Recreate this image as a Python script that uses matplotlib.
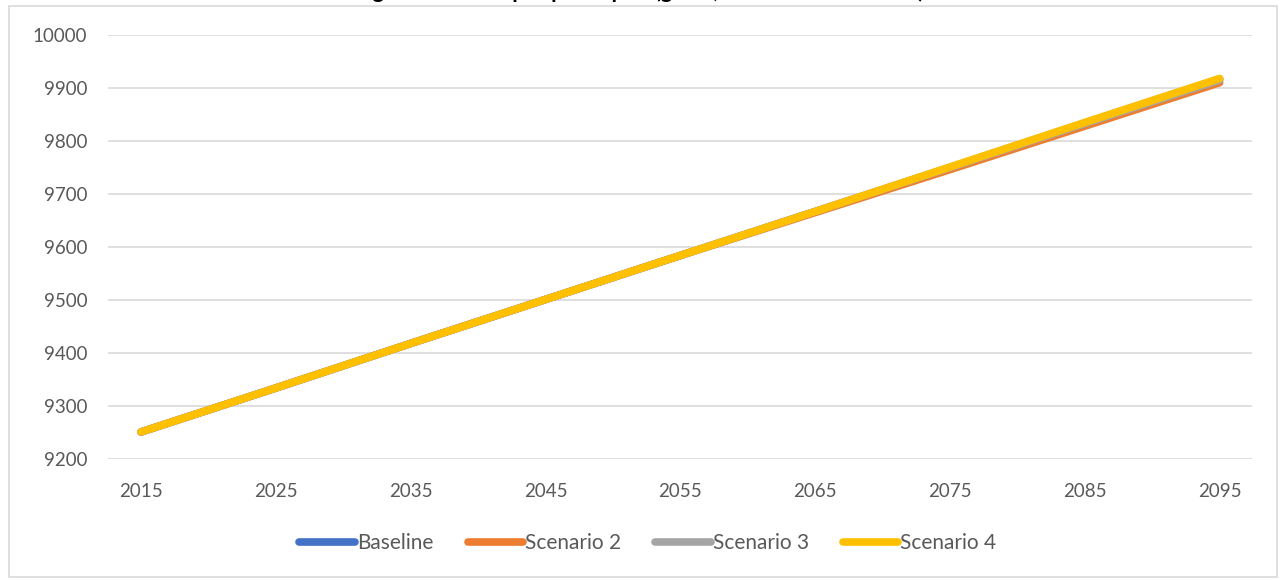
#!/usr/bin/env python3
# -*- coding: utf-8 -*-
"""
plot.py
四种情景下的人均产出长期走势（2015–2095）。
"""

import matplotlib.pyplot as plt
from matplotlib.patches import Rectangle

# ==== 数据 ====
years = [2015, 2025, 2035, 2045, 2055, 2065, 2075, 2085, 2095]
baseline = [9251, 9334, 9418, 9501, 9584, 9667, 9750, 9834, 9917]
scenario_2 = [9251, 9334, 9418, 9501, 9584, 9665, 9746, 9828, 9910]
scenario_3 = [9251, 9334, 9418, 9501, 9584, 9667, 9750, 9833, 9915]
scenario_4 = [9251, 9334, 9418, 9501, 9584, 9667, 9751, 9835, 9918]

series = [
    ("Baseline", baseline, "#4472C4"),
    ("Scenario 2", scenario_2, "#ED7D31"),
    ("Scenario 3", scenario_3, "#A5A5A5"),
    ("Scenario 4", scenario_4, "#FFC000"),
]
y_ticks = list(range(9200, 10001, 100))
title = "Agricultural output per capita (gross, constant 2015 USD)"


def main() -> None:
    plt.rcParams["font.family"] = ["Lato", "DejaVu Sans"]
    fig = plt.figure(figsize=(12.82, 5.8), dpi=100)
    ax = fig.add_axes([108 / 1282, 1 - 459 / 580, (1252 - 108) / 1282, (459 - 35) / 580])

    # 图表外框
    fig.patches.append(Rectangle((9 / 1282, 3 / 580), 1268 / 1282, 571 / 580,
                                 transform=fig.transFigure, fill=False,
                                 edgecolor="#d9d9d9", linewidth=1.2))

    for name, vals, color in series:
        ax.plot(years, vals, color=color, linewidth=5.5, solid_capstyle="round",
                label=name)

    ax.set_xlim(2012.55, 2097.4)
    ax.set_ylim(9200, 10000)
    ax.set_xticks(years)
    ax.set_yticks(y_ticks)
    ax.grid(axis="y", color="#d9d9d9", linewidth=1.2)
    ax.set_axisbelow(True)
    for s in ax.spines.values():
        s.set_visible(False)
    ax.tick_params(length=0, labelsize=13.5, colors="#595959")
    ax.tick_params(axis="y", pad=15)
    ax.tick_params(axis="x", pad=17)

    leg = fig.legend(loc="center", bbox_to_anchor=(648 / 1282, 1 - 543 / 580),
                     ncol=4, frameon=False, fontsize=15, handlelength=2.65,
                     handletextpad=0.1, columnspacing=1.65)
    for t in leg.get_texts():
        t.set_color("#595959")

    # 标题（位于图框顶部，大部分超出画面）
    fig.text(0.5, 1 + 1.5 / 580, title, ha="center", va="baseline",
             fontsize=16, fontweight="bold", color="#000000")

    fig.savefig("out.png", dpi=100)


if __name__ == "__main__":
    main()
